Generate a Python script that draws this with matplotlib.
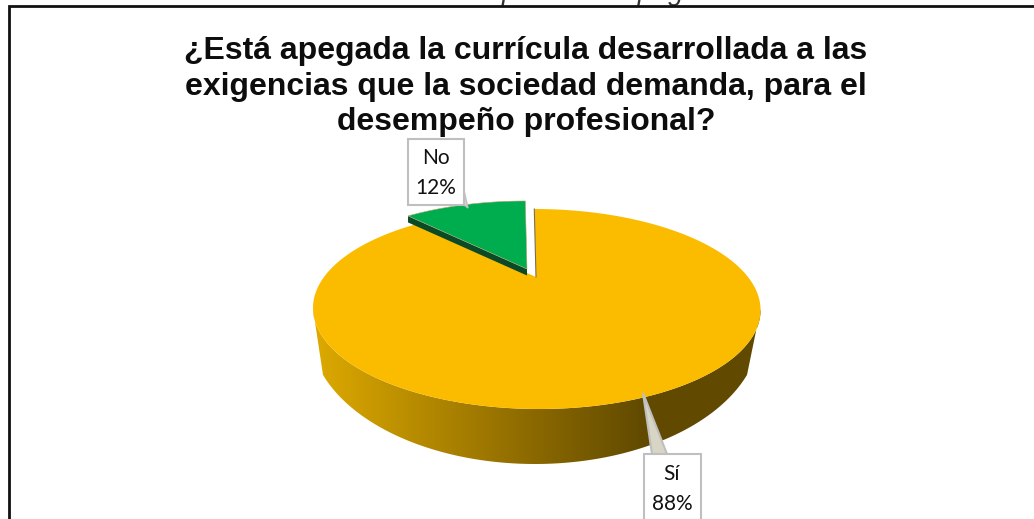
import numpy as np
import matplotlib.pyplot as plt
from matplotlib.colors import LinearSegmentedColormap
from matplotlib.patches import Polygon, Rectangle

# data
categorias = ['Sí', 'No']
porcentajes = [88, 12]
titulo = ['¿Está apegada la currícula desarrollada a las',
          'exigencias que la sociedad demanda, para el',
          'desempeño profesional?']
texto_arriba = 'Adecuación de la Currícula: Importancia apegada con la realidad'

W, H = 1034, 519
fig = plt.figure(figsize=(W/100, H/100), dpi=100)
ax = fig.add_axes([0, 0, 1, 1])
ax.set_xlim(0, W)
ax.set_ylim(H, 0)
ax.axis('off')

k = 0.32
centro = np.array([536.0, 277.0])


# angle t is clockwise from 12 o'clock, the homography gives the tilted look
def tapa(t, dx=0, dy=0):
    X, Y = np.sin(t), np.cos(t)
    return np.column_stack([centro[0] + dx + (212*X - 2.2*Y)/(1 + k*Y), centro[1] + dy - 89.76*Y/(1 + k*Y)])


# slices
corte = 2*np.pi*porcentajes[0]/sum(porcentajes)
t_si = np.linspace(0, corte, 300)
t_no = np.linspace(corte, 2*np.pi, 80)

# side wall with gradient
izq, der = np.arccos(-k), 2*np.pi - np.arccos(-k)
t_frente = np.linspace(izq, der, 200)
u = np.linspace(1.912, 4.371, 200)
fondo = np.column_stack([535 + 225*np.sin(u), 330 - 134*np.cos(u)])
lado = np.vstack([tapa(t_frente), fondo[::-1]])
cmap = LinearSegmentedColormap.from_list('lado', [(0, '#deaa00'), (0.5, '#8a6800'), (0.74, '#614a00'), (1, '#614a00')])
im = ax.imshow(np.linspace(0, 1, 256).reshape(1, -1), cmap=cmap, extent=[312, 761, H, 0], aspect='auto', zorder=1)
poli = Polygon(lado, closed=True, transform=ax.transData, fc='none', ec='none')
ax.add_patch(poli)
im.set_clip_path(poli)
ax.set_xlim(0, W)
ax.set_ylim(H, 0)

# yellow top
ax.add_patch(Polygon(np.vstack([centro, tapa(t_si)]), closed=True, fc='#fbbc00', ec='none', zorder=2))
ax.plot([534.3, 536], [209, 277], color='#7a7050', lw=0.8, zorder=2)

# green slice, pulled out of the pie
dx, dy = -9, -8
verde = np.vstack([centro + [dx, dy], tapa(t_no, dx, dy)])
borde = np.vstack([centro + [dx, dy], tapa(t_no[:1], dx, dy)])
ax.add_patch(Polygon(np.vstack([borde, (borde + [0, 6.5])[::-1]]), closed=True, fc='#0b4a26', ec='none', zorder=3))
ax.add_patch(Polygon(verde, closed=True, fc='#00ad4e', ec='#b9a36a', lw=0.4, zorder=4))

# callouts
gris = '#bfbfbf'
ax.add_patch(Polygon([[461, 177], [468, 208], [463, 204]], closed=True, fc='#d5d5d5', ec=gris, lw=1, zorder=5))
ax.add_patch(Rectangle((407.5, 138.5), 56.5, 66.5, fc='white', ec=gris, lw=1.5, zorder=6))
ax.add_patch(Polygon([[643, 393], [652, 454], [667, 454]], closed=True, fc='#d9d5c5', ec=gris, lw=1.5, zorder=5))
ax.add_patch(Rectangle((643.5, 454), 57.5, 80, fc='white', ec=gris, lw=1.5, zorder=6))
for nombre, valor, xt, yt in zip(categorias, porcentajes, [672, 436], [474, 158]):
    ax.text(xt, yt, nombre, family='Lato', fontsize=15, ha='center', va='center', color='#111111', zorder=7)
    ax.text(xt, yt + 30.5, f'{valor}%', family='Lato', fontsize=15, ha='center', va='center', color='#111111', zorder=7)

# chart frame
ax.plot([8.5, 8.5, W], [H, 6, 6], color='#111111', lw=2, solid_joinstyle='miter', zorder=8)

for i, linea in enumerate(titulo):
    ax.text(526, 59 + 35.5*i, linea, family='Liberation Sans', fontweight='bold', fontsize=23, ha='center', va='baseline', color='#0d0d0d', zorder=9)

# sits almost entirely above the top edge, as in the original crop
ax.text(522, -0.5, texto_arriba, family='Liberation Sans', style='italic', fontsize=19.7, ha='center', va='baseline', color='#333333', zorder=7, clip_on=False)

fig.savefig('out.png', dpi=100)
